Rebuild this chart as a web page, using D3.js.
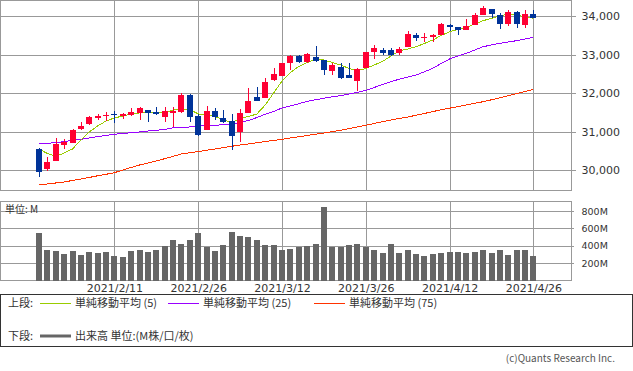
<!DOCTYPE html>
<html>
<head>
<meta charset="utf-8">
<script src="https://cdnjs.cloudflare.com/ajax/libs/d3/7.8.5/d3.min.js"></script>
<style>
body { margin: 0; background: #fff; }
svg text { fill: #333; }
</style>
</head>
<body>
<div id="chart"></div>
<script>
// data
let dates = ["2021/1/29","2021/2/1","2021/2/2","2021/2/3","2021/2/4","2021/2/5","2021/2/8","2021/2/9","2021/2/10","2021/2/11",
    "2021/2/12","2021/2/16","2021/2/17","2021/2/18","2021/2/19","2021/2/22","2021/2/23","2021/2/24","2021/2/25","2021/2/26",
    "2021/3/1","2021/3/2","2021/3/3","2021/3/4","2021/3/5","2021/3/8","2021/3/9","2021/3/10","2021/3/11","2021/3/12",
    "2021/3/15","2021/3/16","2021/3/17","2021/3/18","2021/3/19","2021/3/22","2021/3/23","2021/3/24","2021/3/25","2021/3/26",
    "2021/3/29","2021/3/30","2021/3/31","2021/4/1","2021/4/5","2021/4/6","2021/4/7","2021/4/8","2021/4/9","2021/4/12",
    "2021/4/13","2021/4/14","2021/4/15","2021/4/16","2021/4/19","2021/4/20","2021/4/21","2021/4/22","2021/4/23","2021/4/26"];

let open = [30545,30030,30240,30660,30710,31060,31190,31360,31400,31455,
    31390,31430,31475,31560,31505,31365,31490,31500,31950,31410,
    31050,31535,31360,31270,30995,31490,31890,31880,32325,32450,
    32787,32970,32813,32927,32850,32572,32675,32468,32320,32650,
    33073,33117,33117,33050,33203,33514,33447,33462,33514,33766,
    33706,33644,33766,34026,34174,34026,33792,34104,33766,34052];
let high = [30560,30340,30825,30810,31070,31250,31390,31455,31515,31530,
    31470,31620,31645,31570,31635,31635,31645,32000,31970,31460,
    31660,31620,31560,31455,31585,32130,32150,32390,32650,32790,
    32975,32990,33047,33230,32860,32770,32780,32787,32657,33070,
    33240,33180,33180,33187,33610,33550,33550,33520,33826,33792,
    33722,33922,34086,34260,34180,34070,34156,34130,34156,34156];
let low = [29830,29980,30230,30540,30700,31040,31180,31300,31280,31230,
    31330,31400,31300,31250,31430,31250,31120,31480,31250,30890,
    31040,31300,31215,30520,30735,31480,31790,31870,32310,32430,
    32605,32770,32787,32813,32470,32470,32355,32385,32050,32640,
    32890,32987,32970,32975,33190,33358,33317,33317,33500,33618,
    33507,33640,33760,34020,33940,33662,33740,33696,33696,33950];
let close = [29960,30210,30680,30725,31040,31145,31385,31410,31437,31420,
    31460,31510,31610,31480,31455,31520,31537,31960,31380,30910,
    31535,31365,31255,30890,31475,31800,31800,32285,32495,32787,
    32969,32812,33021,32840,32605,32727,32390,32390,32616,33065,
    33160,33047,32987,33135,33525,33421,33462,33514,33792,33722,
    33636,33740,34026,34208,34052,33792,34112,33792,34052,33960];
let volume = [550,350,338,304,338,292,327,315,327,280,
    269,338,350,327,350,396,465,419,465,550,
    385,338,408,558,512,500,465,408,408,350,
    361,385,396,419,850,388,388,408,419,388,
    350,319,419,319,350,304,280,304,315,327,
    327,315,327,350,315,350,292,350,350,280];

let ma5 = [30546,30429,30351,30442,30546,30780,30987,31143,31273,31351,
    31403,31455,31481,31489,31489,31494,31559,31577,31572,31455,
    31442,31390,31299,31234,31343,31390,31455,31689,32000,32312,
    32533,32689,32792,32870,32857,32792,32727,32637,32585,32637,
    32727,32818,32961,33091,33143,33203,33286,33377,33494,33592,
    33649,33707,33792,33878,33940,34000,34052,34021,33979,33940];
let ma25 = [30694,30697,30707,30741,30767,30795,30832,30871,30897,30928,
    30949,30967,30987,31013,31032,31052,31097,31110,31117,31151,
    31159,31161,31177,31195,31234,31286,31364,31450,31520,31611,
    31663,31722,31780,31824,31863,31902,31933,31974,32018,32070,
    32143,32221,32294,32359,32416,32468,32551,32642,32766,32883,
    32961,33031,33117,33203,33247,33291,33325,33359,33403,33447];
let ma75 = [29611,29637,29663,29689,29728,29767,29806,29850,29889,29930,
    30001,30066,30130,30182,30234,30294,30356,30416,30447,30478,
    30512,30546,30580,30616,30650,30676,30707,30738,30769,30798,
    30832,30863,30897,30928,30962,30995,31034,31076,31117,31161,
    31208,31255,31299,31338,31377,31421,31468,31517,31564,31606,
    31647,31689,31733,31774,31824,31876,31930,31985,32039,32096];

let dateTicks = ["2021/2/11","2021/2/26","2021/3/12","2021/3/26","2021/4/12","2021/4/26"];
let priceTicks = [30000,31000,32000,33000,34000];
let volumeTicks = [200,400,600,800];
let legendTop = ["単純移動平均 (5)","単純移動平均 (25)","単純移動平均 (75)"];
let legendColors = ["#99cc00","#9900ff","#ff3300"];

let w = 633;
let h = 371;
let plotW = 571;
let upColor = "#ff0033";
let downColor = "#003399";
let gridColor = "#999";
let numFont = "DejaVu Sans";
let jpFont = "Noto Sans CJK JP";

let svg = d3.select("#chart")
    .append("svg")
    .attr("width", w)
    .attr("height", h)
    .style("display", "block");

//set up the scales
let xScale = d3.scalePoint()
    .domain(dates)
    .range([39, 533.4]);

let yScale = d3.scaleLinear()
    .domain([30000, 34000])
    .range([170, 16]);

let vScale = d3.scaleLinear()
    .domain([0, 800])
    .range([280.5, 211]);

let priceTop = 0.5, priceBottom = 190.5;
let volTop = 201.5, volBottom = 280.5;

let cx = d => Math.round(xScale(d)) + 0.5;
let rows = dates.map((d, i) => ({date: d, o: open[i], hi: high[i], lo: low[i], c: close[i], v: volume[i]}));

// price panel grid
let priceGrid = svg.append("g")
    .attr("shape-rendering", "crispEdges");

priceGrid.selectAll(".hgrid")
    .data(priceTicks)
    .enter()
    .append("line")
    .attr("x1", 0)
    .attr("x2", plotW + 5)
    .attr("y1", d => Math.round(yScale(d)) + 0.5)
    .attr("y2", d => Math.round(yScale(d)) + 0.5)
    .style("stroke", gridColor);

priceGrid.selectAll(".vgrid")
    .data(dateTicks)
    .enter()
    .append("line")
    .attr("x1", cx)
    .attr("x2", cx)
    .attr("y1", priceTop)
    .attr("y2", priceBottom)
    .style("stroke", gridColor);

priceGrid.append("rect")
    .attr("x", 0.5)
    .attr("y", priceTop)
    .attr("width", plotW)
    .attr("height", priceBottom - priceTop)
    .style("fill", "none")
    .style("stroke", gridColor);

// price labels
svg.append("g")
    .attr("transform", "translate(" + (plotW + 0.5) + ",0)")
    .call(d3.axisRight(yScale).tickValues(priceTicks).tickFormat(d3.format(",")).tickSize(0).tickPadding(10))
    .call(g => g.select(".domain").remove())
    .selectAll("text")
    .style("font-family", numFont)
    .style("font-size", "11px")
    .style("fill", "#333");

// moving average lines
let maLine = d3.line()
    .x((d, i) => xScale(dates[i]))
    .y(d => yScale(d));

[ma75, ma25, ma5].forEach((series, k) => {
    svg.append("path")
        .datum(series)
        .attr("d", maLine)
        .attr("shape-rendering", "crispEdges")
        .style("fill", "none")
        .style("stroke", legendColors[2 - k])
        .style("stroke-width", 1);
});

// candles
let candles = svg.append("g")
    .attr("shape-rendering", "crispEdges");

candles.selectAll(".wick")
    .data(rows)
    .enter()
    .append("line")
    .attr("x1", d => cx(d.date))
    .attr("x2", d => cx(d.date))
    .attr("y1", d => yScale(d.hi))
    .attr("y2", d => yScale(d.lo))
    .style("stroke", d => d.c >= d.o ? upColor : downColor);

candles.selectAll(".body")
    .data(rows)
    .enter()
    .append("rect")
    .attr("x", d => Math.round(xScale(d.date)) - 3)
    .attr("y", d => yScale(Math.max(d.o, d.c)))
    .attr("width", 6)
    .attr("height", d => Math.max(1, Math.abs(yScale(d.o) - yScale(d.c))))
    .style("fill", d => d.c >= d.o ? upColor : downColor);

// volume panel
let volGrid = svg.append("g")
    .attr("shape-rendering", "crispEdges");

volGrid.selectAll(".hgrid")
    .data(volumeTicks)
    .enter()
    .append("line")
    .attr("x1", 0)
    .attr("x2", plotW + 3)
    .attr("y1", d => Math.round(vScale(d)) + 0.5)
    .attr("y2", d => Math.round(vScale(d)) + 0.5)
    .style("stroke", gridColor);

volGrid.selectAll(".vgrid")
    .data(dateTicks)
    .enter()
    .append("line")
    .attr("x1", cx)
    .attr("x2", cx)
    .attr("y1", volTop)
    .attr("y2", volBottom)
    .style("stroke", gridColor);

volGrid.append("rect")
    .attr("x", 0.5)
    .attr("y", volTop)
    .attr("width", plotW)
    .attr("height", volBottom - volTop)
    .style("fill", "none")
    .style("stroke", gridColor);

svg.append("g")
    .attr("shape-rendering", "crispEdges")
    .selectAll("rect")
    .data(rows)
    .enter()
    .append("rect")
    .attr("x", d => Math.round(xScale(d.date)) - 3)
    .attr("y", d => vScale(d.v))
    .attr("width", 6)
    .attr("height", d => vScale(0) - vScale(d.v))
    .style("fill", "#666");

svg.append("text")
    .attr("x", 5)
    .attr("y", 213)
    .text("単位: M")
    .style("font-family", jpFont)
    .style("font-size", "10px");

svg.append("g")
    .attr("transform", "translate(" + (plotW + 0.5) + ",0)")
    .call(d3.axisRight(vScale).tickValues(volumeTicks).tickFormat(d => d + "M").tickSize(0).tickPadding(10))
    .call(g => g.select(".domain").remove())
    .selectAll("text")
    .style("font-family", numFont)
    .style("font-size", "9.5px")
    .style("fill", "#333");

// date labels
svg.append("g")
    .attr("transform", "translate(0," + 282 + ")")
    .call(d3.axisBottom(xScale).tickValues(dateTicks).tickSize(0).tickPadding(2))
    .call(g => g.select(".domain").remove())
    .selectAll("text")
    .style("font-family", numFont)
    .style("font-size", "11px")
    .style("fill", "#333");

// legend box
svg.append("rect")
    .attr("x", 0.5)
    .attr("y", 294.5)
    .attr("width", w - 1)
    .attr("height", 52)
    .attr("shape-rendering", "crispEdges")
    .style("fill", "none")
    .style("stroke", "#333");

svg.append("text")
    .attr("x", 8)
    .attr("y", 307)
    .text("上段:")
    .style("font-family", jpFont)
    .style("font-size", "11px");

let legendX = [40, 168, 314];
let legend = svg.selectAll(".legend")
    .data(legendTop)
    .enter()
    .append("g")
    .attr("transform", (d, i) => "translate(" + legendX[i] + ",303)");

legend.append("line")
    .attr("x1", 0)
    .attr("x2", 31)
    .attr("y1", 0.5)
    .attr("y2", 0.5)
    .style("stroke", (d, i) => legendColors[i]);

legend.append("text")
    .attr("x", 35)
    .attr("y", 4)
    .text(d => d)
    .style("font-family", jpFont)
    .style("font-size", "11px");

svg.append("text")
    .attr("x", 8)
    .attr("y", 340)
    .text("下段:")
    .style("font-family", jpFont)
    .style("font-size", "11px");

svg.append("line")
    .attr("x1", 40)
    .attr("x2", 71)
    .attr("y1", 336)
    .attr("y2", 336)
    .style("stroke", "#666")
    .style("stroke-width", 3);

svg.append("text")
    .attr("x", 75)
    .attr("y", 340)
    .text("出来高 単位:(M株/口/枚)")
    .style("font-family", jpFont)
    .style("font-size", "11px");

svg.append("text")
    .attr("x", 615)
    .attr("y", 362)
    .attr("text-anchor", "end")
    .text("(c)Quants Research Inc.")
    .style("font-family", jpFont)
    .style("font-size", "10px")
    .style("fill", "#555");
</script>
</body>
</html>
